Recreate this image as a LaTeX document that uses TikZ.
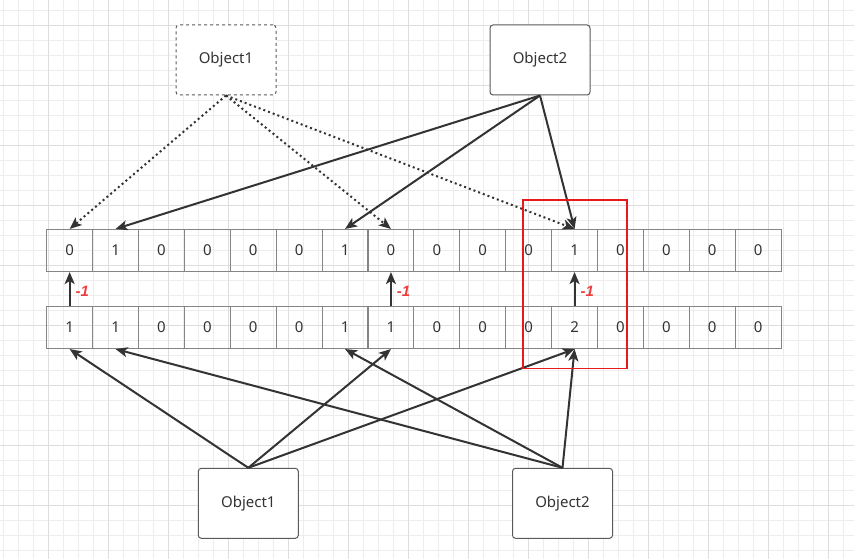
\documentclass[tikz,border=0pt]{standalone}
\usepackage{fontspec}
\setmainfont{Noto Sans}
\newfontfamily\minusfont{Liberation Sans}
\usepackage{xcolor}
\usetikzlibrary{arrows.meta}

\definecolor{ink}{HTML}{333333}
\definecolor{cellgray}{HTML}{858585}
\definecolor{boxgray}{HTML}{5A5A5A}
\definecolor{gridminor}{HTML}{EDEDED}
\definecolor{gridmajor}{HTML}{DEDEDE}
\definecolor{hotred}{HTML}{E8191E}
\definecolor{minusred}{HTML}{F03C3C}

\tikzset{
  cell/.style={draw=cellgray,line width=1.1pt,minimum width=45.9pt,minimum height=42pt,
    inner sep=0pt,text=ink,font=\fontsize{15}{17}\selectfont},
  objbox/.style={draw=boxgray,line width=1pt,rounded corners=3pt,fill=white,
    minimum width=100pt,minimum height=70pt,text=ink,font=\fontsize{15}{17}\selectfont},
  arr/.style={draw=ink,line width=2pt,-{Stealth[length=12pt,width=10pt,inset=3pt]}},
  dotarr/.style={arr,dash pattern=on 2pt off 3pt},
  minus/.style={text=minusred,font=\minusfont\fontsize{15}{17}\selectfont\bfseries\itshape,inner sep=0pt,anchor=west}
}

\begin{document}
\begin{tikzpicture}[x=1pt,y=-1pt]
 \useasboundingbox (0,0) rectangle (854,559);
 % background grid
 \foreach \x in {3.3,18.3,...,854} \draw[gridminor,line width=0.8pt] (\x,0) -- (\x,559);
 \foreach \y in {10,25,...,559} \draw[gridminor,line width=0.8pt] (0,\y) -- (854,\y);
 \foreach \x in {48.3,108.3,...,854} \draw[gridmajor,line width=0.8pt] (\x,0) -- (\x,559);
 \foreach \y in {25,85,...,559} \draw[gridmajor,line width=0.8pt] (0,\y) -- (854,\y);

 % the two rows of counters
 \foreach \v [count=\i] in {0,1,0,0,0,0,1,0,0,0,0,1,0,0,0,0}
   \node[cell] (t\i) at ({46.7+(\i-0.5)*45.9},250.5) {\v};
 \foreach \v [count=\i] in {1,1,0,0,0,0,1,1,0,0,0,2,0,0,0,0}
   \node[cell] (b\i) at ({46.7+(\i-0.5)*45.9},327.5) {\v};

 % objects
 \node[objbox,dashed] (rm1) at (226,60) {Object1};
 \node[objbox] (rm2) at (540,60) {Object2};
 \node[objbox] (in1) at (248.3,503.3) {Object1};
 \node[objbox] (in2) at (562.5,503.3) {Object2};

 % removed object 1 (dotted)
 \foreach \c in {1,8,12} \draw[dotarr] (rm1.south) -- (t\c.north);
 % object 2 in top row
 \foreach \c in {2,7,12} \draw[arr] (rm2.south) -- (t\c.north);
 % objects in bottom row
 \foreach \c in {1,8,12} \draw[arr] (in1.north) -- (b\c.south);
 \foreach \c in {2,7,12} \draw[arr] (in2.north) -- (b\c.south);

 % decrements
 \foreach \c in {1,8,12}
   \draw[arr] (b\c.north) -- (t\c.south) node[minus,pos=0.42,xshift=5pt] {-1};

 % highlighted column
 \draw[hotred,line width=1.6pt] (522.7,200) rectangle (627,368.3);
\end{tikzpicture}
\end{document}
